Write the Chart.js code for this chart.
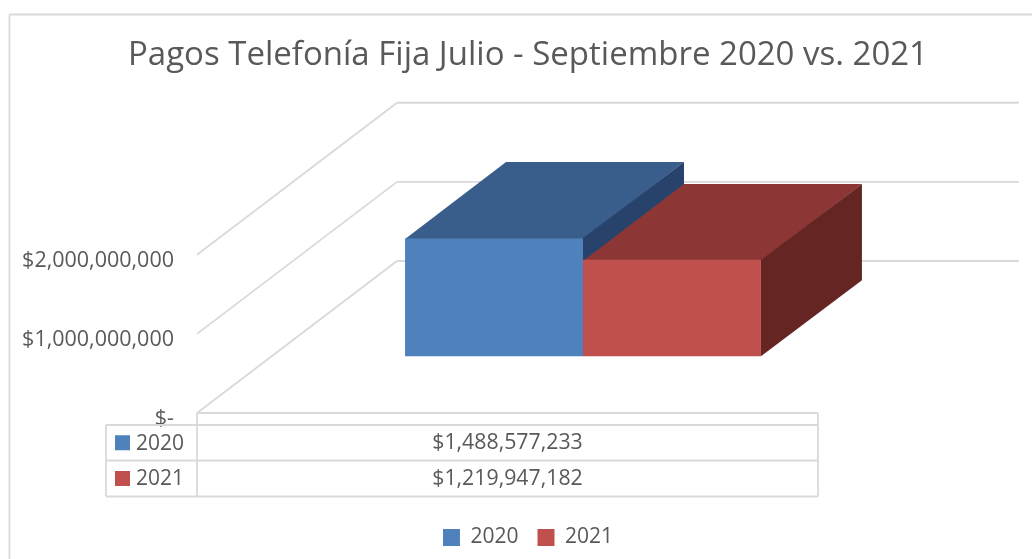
<!DOCTYPE html>
<html lang="es">
<head>
    <meta charset="UTF-8">
    <title>Pagos Telefonía Fija</title>
    <style>
        html, body {
            margin: 0;
            padding: 0;
            width: 1032px;
            height: 559px;
            overflow: hidden;
            background-color: #fff;
        }
        canvas {
            display: block;
        }
    </style>
    <script src="https://cdn.jsdelivr.net/npm/chart.js"></script>
</head>
<body>

<canvas id="pagosChart" width="1056" height="559"></canvas>

<script>
    // Data
    const categories = ['Julio - Septiembre'];
    const seriesNames = ['2020', '2021'];
    const values2020 = [1488577233];
    const values2021 = [1219947182];
    const yTickValues = [0, 1000000000, 2000000000];

    const titleText = 'Pagos Telefonía Fija Julio - Septiembre 2020 vs. 2021';
    const fontName = '"Open Sans", sans-serif';
    const textColor = '#595959';
    const lineColor = '#d9d9d9';
    const frontColors = ['#4f81bd', '#c0504d'];
    const topColors = ['#3a5e8b', '#8c3735'];
    const sideColors = ['#27436b', '#652523'];

    function money(value) {
        return value === 0 ? '$-' : '$' + value.toLocaleString('en-US');
    }

    function line(ctx, x1, y1, x2, y2) {
        ctx.beginPath();
        ctx.moveTo(x1, y1);
        ctx.lineTo(x2, y2);
        ctx.stroke();
    }

    function poly(ctx, color, pts) {
        ctx.fillStyle = color;
        ctx.beginPath();
        pts.forEach(function(p, i) {
            if (i === 0) ctx.moveTo(p[0], p[1]);
            else ctx.lineTo(p[0], p[1]);
        });
        ctx.closePath();
        ctx.fill();
    }

    // Walls and the top and side faces of the boxes, behind the front faces
    const walls3d = {
        id: 'walls3d',
        beforeDatasetsDraw(chart) {
            const ctx = chart.ctx;
            const y = chart.scales.y;
            const left = chart.chartArea.left;
            const floorDx = 200, floorDy = -152, backRight = 1019;
            const barDx = 101, barDy = -76;

            ctx.save();
            ctx.strokeStyle = lineColor;
            ctx.lineWidth = 1.8;
            // chart frame
            line(ctx, 9.5, 14.5, 1056, 14.5);
            line(ctx, 9.5, 14.5, 9.5, 559);
            // side wall and back wall lines
            yTickValues.forEach(function(v) {
                const py = y.getPixelForValue(v);
                line(ctx, left, py, left + floorDx, py + floorDy);
                line(ctx, left + floorDx, py + floorDy, backRight, py + floorDy);
            });

            chart.data.datasets.forEach(function(ds, i) {
                const bar = chart.getDatasetMeta(i).data[0];
                const x1 = bar.x - bar.width / 2;
                const x2 = bar.x + bar.width / 2;
                const top = Math.round(bar.y);
                poly(ctx, topColors[i], [[x1, top + 1], [x2, top + 1], [x2 + barDx, top + barDy], [x1 + barDx, top + barDy]]);
                poly(ctx, sideColors[i], [[x2, top], [x2 + barDx, top + barDy], [x2 + barDx, bar.base + barDy], [x2, bar.base]]);
            });
            ctx.restore();
        },
        // data table under the plot
        afterDraw(chart) {
            const ctx = chart.ctx;
            const y = chart.scales.y;
            const floor = y.getPixelForValue(0);
            const tableLeft = 106, colX = chart.chartArea.left, tableRight = 818;
            const rows = [425, 460.5, 496.5];
            const rowValues = [values2020[0], values2021[0]];

            ctx.save();
            ctx.strokeStyle = lineColor;
            ctx.lineWidth = 1.8;
            line(ctx, colX, floor, tableRight, floor);
            line(ctx, colX, floor, colX, rows[2]);
            line(ctx, tableRight, floor, tableRight, rows[2]);
            line(ctx, tableLeft, rows[0], tableLeft, rows[2]);
            rows.forEach(function(r) {
                line(ctx, tableLeft, r, tableRight, r);
            });

            ctx.textBaseline = 'middle';
            seriesNames.forEach(function(name, i) {
                const mid = (rows[i] + rows[i + 1]) / 2 + 1;
                ctx.fillStyle = frontColors[i];
                ctx.fillRect(115, mid - 8.5, 15, 15);
                ctx.fillStyle = textColor;
                ctx.font = '21px ' + fontName;
                ctx.textAlign = 'left';
                ctx.fillText(name, 136, mid);
                ctx.font = '21.3px ' + fontName;
                ctx.textAlign = 'center';
                ctx.fillText(money(rowValues[i]), (colX + tableRight) / 2, mid - 1);
            });
            ctx.restore();
        }
    };

    const pagosChart = new Chart(document.getElementById('pagosChart').getContext('2d'), {
        type: 'bar',
        data: {
            labels: categories,
            datasets: [
                { label: seriesNames[0], data: values2020, backgroundColor: frontColors[0], yAxisID: 'y2' },
                { label: seriesNames[1], data: values2021, backgroundColor: frontColors[1], yAxisID: 'y2' }
            ]
        },
        options: {
            responsive: false,
            animation: false,
            categoryPercentage: 0.461,
            barPercentage: 1,
            layout: { padding: { left: 0, right: 0, top: 0, bottom: 1 } },
            plugins: {
                title: {
                    display: true,
                    text: titleText,
                    color: textColor,
                    font: { family: fontName, size: 33, weight: 'normal', lineHeight: 1.2 },
                    padding: { top: 35.5, bottom: 140.1 }
                },
                legend: {
                    position: 'bottom',
                    labels: {
                        color: textColor,
                        font: { family: fontName, size: 21 },
                        boxWidth: 17,
                        boxHeight: 17,
                        padding: 19
                    }
                },
                tooltip: { enabled: false }
            },
            scales: {
                x: {
                    grid: { display: false },
                    border: { display: false },
                    ticks: { display: false },
                    afterFit(scale) { scale.height = 95; }
                },
                y: {
                    min: 0,
                    max: 2500000000,
                    afterFit(scale) { scale.width = 197; },
                    afterBuildTicks(scale) {
                        scale.ticks = yTickValues.map(function(v) { return { value: v }; });
                    },
                    grid: { display: false },
                    border: { display: false },
                    ticks: {
                        color: textColor,
                        font: { family: fontName, size: 21.5 },
                        padding: 15,
                        labelOffset: 6,
                        callback: function(value) { return money(value); }
                    }
                },
                // boxes stand on a floor further back, this scale lifts their base.
                // sits on the right only to keep the plot clear of the right edge
                y2: {
                    position: 'right',
                    min: -717000000,
                    max: 1783000000,
                    afterFit(scale) { scale.width = 87; },
                    grid: { display: false },
                    border: { display: false },
                    ticks: { display: false }
                }
            }
        },
        plugins: [walls3d]
    });
</script>

</body>
</html>
